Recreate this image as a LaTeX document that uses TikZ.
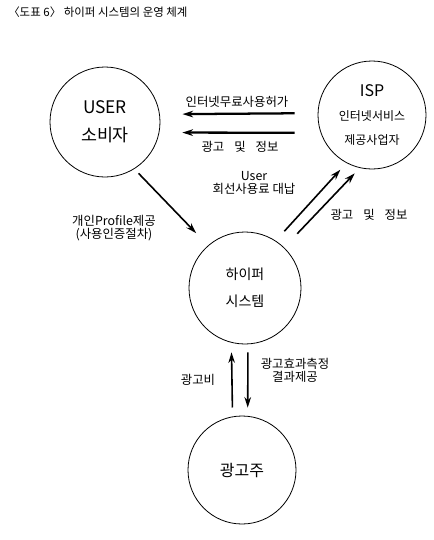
\documentclass[tikz,border=0pt]{standalone}
\usepackage{fontspec}
\setmainfont{Noto Sans CJK KR}
\usetikzlibrary{arrows.meta}

\begin{document}
\begin{tikzpicture}[x=0.75pt, y=-0.75pt,
    party/.style={circle, draw, line width=0.6pt, inner sep=0pt, align=center},
    flow/.style={-{Stealth[length=8pt, width=5pt]}, line width=1.2pt},
    heavyflow/.style={flow, line width=1.7pt},
    note/.style={inner sep=0pt, align=center, font=\fontsize{9.3}{9.75}\selectfont}]
    \useasboundingbox (0,0) rectangle (434,540);

    % Title
    \node[anchor=west, inner sep=0pt, font=\fontsize{8.6}{10}\selectfont] (title) at (8,12) {〈도표 6〉 하이퍼 시스템의 운영 체계};

    % Define nodes
    \node[party, minimum size=82.5pt, font=\fontsize{13}{21}\selectfont] (user) at (105,122) {USER\\소비자};
    \node[party, minimum size=81pt, font=\fontsize{9}{18}\selectfont] (isp) at (372,115) {{\fontsize{12}{18}\selectfont ISP}\\인터넷서비스\\제공사업자};
    \node[party, minimum size=84pt, font=\fontsize{10.5}{20}\selectfont] (hyper) at (245,288) {하이퍼\\시스템};
    \node[party, minimum size=81pt, font=\fontsize{12}{14}\selectfont] (sponsor) at (242,470) {광고주};

    % Draw ISP -> user arrows
    \draw[heavyflow, shorten <=17.2pt, shorten >=17pt] (isp.178.9) -- (user.8.4);
    \draw[heavyflow, shorten <=19.5pt, shorten >=17.2pt] (isp.199.5) -- (user.-11.5);

    % Draw user -> hyper -> ISP arrows
    \draw[flow, shorten <=4.5pt, shorten >=12.8pt] (user.-58.4) -- (hyper.131.1);
    \draw[flow, shorten <=9.6pt, shorten >=6.8pt] (hyper.57.5) -- (isp.242.6);
    \draw[flow, shorten <=14.2pt, shorten >=5.5pt] (hyper.46.1) -- (isp.257.8);

    % Draw hyper <-> sponsor arrows
    \draw[flow, shorten <=6.7pt, shorten >=7.2pt] (sponsor.100.7) -- (hyper.256.6);
    \draw[flow, shorten <=6pt, shorten >=6.2pt] (hyper.-87.95) -- (sponsor.84.7);

    % Add labels beside the arrows
    \node[note] (lfree) at (237,102) {인터넷무료사용허가};
    \node[note] (linfo) at (240,147) {광고\hspace{0.8em}및\hspace{0.8em}정보};
    \node[note] (lfee) at (254,183) {User\\회선사용료 대납};
    \node[note] (lads) at (369,215) {광고\hspace{0.8em}및\hspace{0.8em}정보};
    \node[note] (lprofile) at (114,228) {개인Profile제공\\(사용인증절차)};
    \node[note] (lcost) at (198,380) {광고비};
    \node[note] (lresult) at (295,370) {광고효과측정\\결과제공};
\end{tikzpicture}
\end{document}
